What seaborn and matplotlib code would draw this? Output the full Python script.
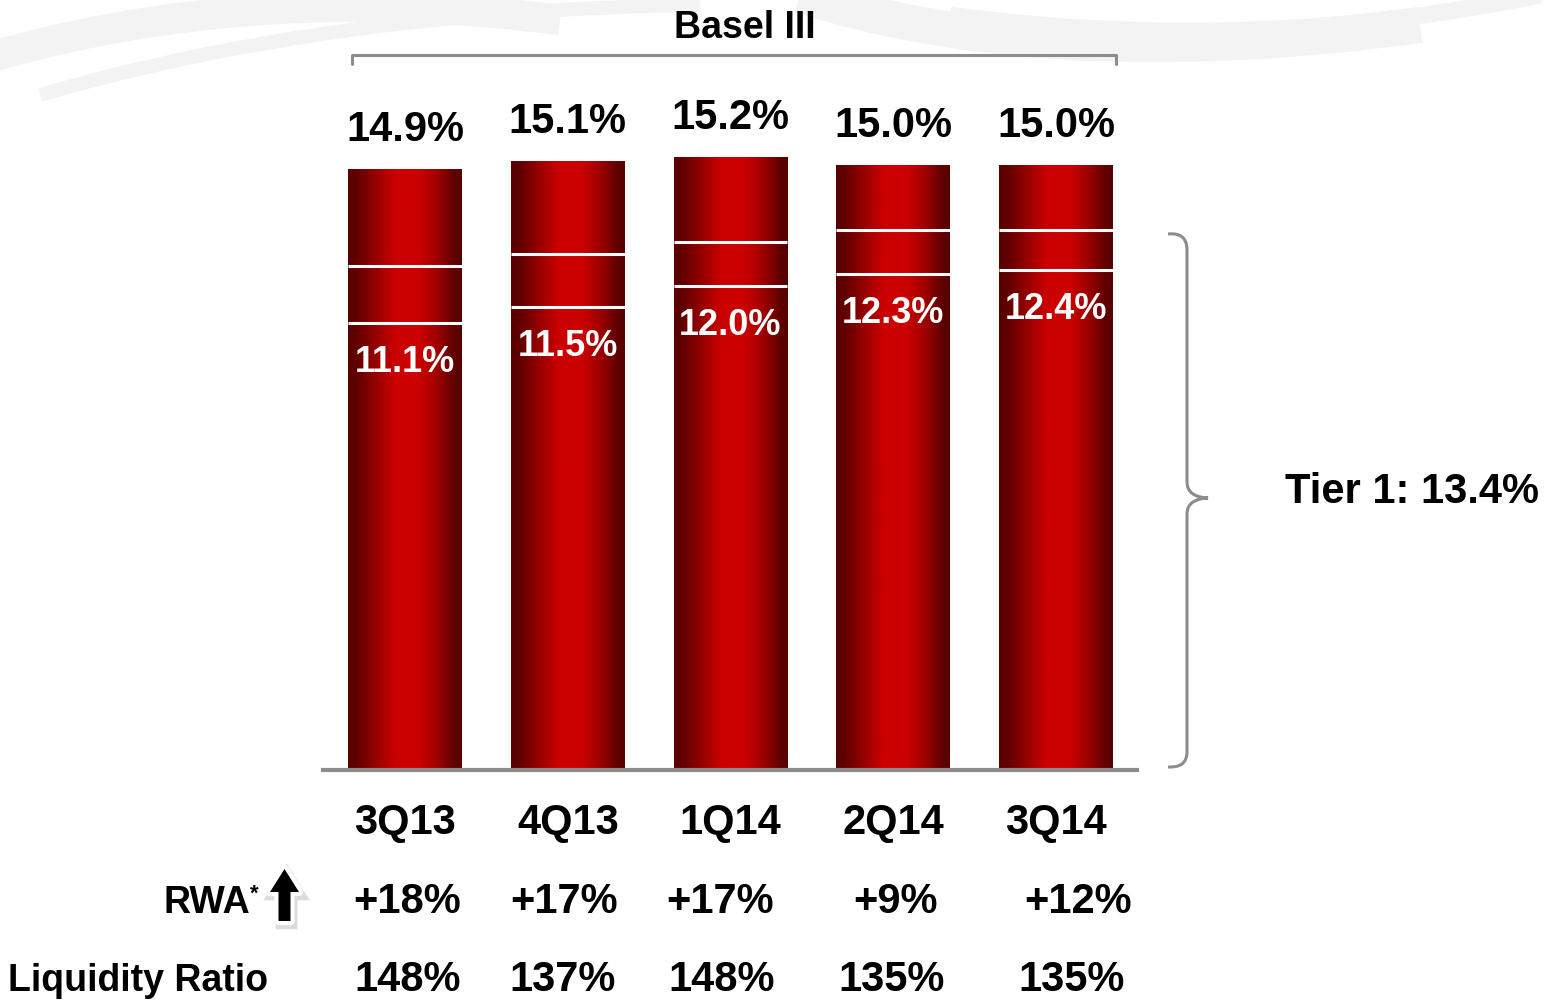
import numpy as np
import pandas as pd
import matplotlib
matplotlib.use("Agg")
import matplotlib.pyplot as plt
import seaborn as sns
from matplotlib.path import Path
from matplotlib.patches import PathPatch, Polygon
from matplotlib.lines import Line2D
from matplotlib import patheffects as pe
from matplotlib.transforms import blended_transform_factory

# Capital ratios by quarter (Basel III)
quarters = ["3Q13", "4Q13", "1Q14", "2Q14", "3Q14"]
total_ratio = [14.9, 15.1, 15.2, 15.0, 15.0]
tier1_ratio = [12.5, 12.8, 13.1, 13.4, 13.4]
cet1_ratio = [11.1, 11.5, 12.0, 12.3, 12.4]
rwa_growth = ["+18%", "+17%", "+17%", "+9%", "+12%"]
liquidity_ratio = ["148%", "137%", "148%", "135%", "135%"]
tier1_current = 13.4

sns.set_theme(style="white")
plt.rcParams["font.family"] = ["Liberation Sans", "DejaVu Sans"]

W, H = 1556, 1001
fig = plt.figure(figsize=(W / 100, H / 100), dpi=100)
fig.patch.set_facecolor("white")


def fx(x):
    return x / W


def fy(y):
    return 1 - y / H


GREY = "#8c8c8c"

# faint decorative swooshes along the top edge
for pts, lw in [
    ([(-20, 60), (250, -20), (560, 20)], 22),
    ([(40, 95), (330, 10), (700, 5)], 10),
    ([(800, -5), (1050, 75), (1420, 25)], 26),
    ([(950, 15), (1250, 55), (1540, -5)], 12),
]:
    verts = [(fx(x), fy(y)) for x, y in pts]
    fig.add_artist(PathPatch(Path(verts, [Path.MOVETO, Path.CURVE3, Path.CURVE3]),
                             transform=fig.transFigure, fill=False,
                             edgecolor="#f3f3f3", lw=lw, zorder=0))

ax = fig.add_axes([fx(323), fy(770), fx(1137) - fx(323), 16 * 40.3 / H])
df = pd.DataFrame({"quarter": quarters, "total": total_ratio})
sns.barplot(data=df, x="quarter", y="total", ax=ax, width=0.70,
            color="#cc0000", saturation=1)
bars = list(ax.patches)

# horizontal shading: dark edges, bright red centre
t = np.linspace(0, 1, 256)
f = np.interp(t, [0, 0.07, 0.25, 0.42, 0.62, 0.80, 0.94, 1.0],
              [0, 0.05, 0.55, 1, 1, 0.55, 0.03, 0])
dark = np.array([0x5a, 0x00, 0x00]) / 255
bright = np.array([0xcc, 0x00, 0x00]) / 255
grad = (dark[None, :] + f[:, None] * (bright - dark)[None, :])[None, :, :]

for p in bars:
    x0, w, h = p.get_x(), p.get_width(), p.get_height()
    ax.imshow(grad, extent=[x0, x0 + w, 0, h], aspect="auto", zorder=2,
              interpolation="bilinear", origin="lower")
    p.set_visible(False)

# segment separators for CET1 and Tier 1
for p, c, t1 in zip(bars, cet1_ratio, tier1_ratio):
    ax.hlines([c, t1], p.get_x(), p.get_x() + p.get_width(),
              colors="white", lw=2.2, zorder=3)

ax.set_xlim(-0.504, 4.498)
ax.set_ylim(0, 16)
ax.set_aspect("auto")
for s in ["top", "left", "right"]:
    ax.spines[s].set_visible(False)
ax.spines["bottom"].set_color(GREY)
ax.spines["bottom"].set_linewidth(3)
ax.set_yticks([])
ax.set_xlabel("")
ax.set_ylabel("")
ax.tick_params(axis="x", length=0, pad=24, labelsize=30, colors="black")
for lbl in ax.get_xticklabels():
    lbl.set_fontweight("bold")

# total capital ratio above each bar
for p, v in zip(bars, total_ratio):
    ax.annotate(f"{v:.1f}%", (p.get_x() + p.get_width() / 2, v),
                xytext=(0, 20.2), textcoords="offset points",
                ha="center", va="baseline", fontsize=30, fontweight="bold",
                color="black", annotation_clip=False)

# CET1 ratio inside each bar
for p, v in zip(bars, cet1_ratio):
    ax.annotate(f"{v:.1f}%", (p.get_x() + p.get_width() / 2, v),
                xytext=(0, -35.3), textcoords="offset points",
                ha="center", va="baseline", fontsize=26, fontweight="bold",
                color="white", zorder=5)

# rows under the chart
row = blended_transform_factory(ax.transData, fig.transFigure)
step = 162.75
rwa_dx = [2, -4, -10, 2, 22]
liq_dx = [3, -5, -9, -2, 16]
for i, (r, l) in enumerate(zip(rwa_growth, liquidity_ratio)):
    ax.text(i + rwa_dx[i] / step, fy(913), r, transform=row, ha="center",
            va="baseline", fontsize=30, fontweight="bold", color="black")
    ax.text(i + liq_dx[i] / step, fy(991), l, transform=row, ha="center",
            va="baseline", fontsize=30, fontweight="bold", color="black")

fig.text(fx(250), fy(913), "RWA", ha="right", va="baseline", fontsize=27,
         fontweight="bold", color="black")
fig.text(fx(250), fy(900), "*", ha="left", va="baseline", fontsize=16,
         fontweight="bold", color="black")
arrow_px = [(284.5, 869), (299, 892), (290.5, 892), (290.5, 921),
            (278.5, 921), (278.5, 892), (270, 892)]
arrow = Polygon([(fx(x), fy(y)) for x, y in arrow_px], closed=True,
                transform=fig.transFigure, facecolor="black",
                edgecolor="none", lw=0, zorder=5)
arrow.set_path_effects([
    pe.Stroke(linewidth=7, foreground="#bbbbbb", offset=(1.5, -2.5), alpha=0.5),
    pe.Stroke(linewidth=6, foreground="white", joinstyle="round"),
    pe.Normal(),
])
fig.add_artist(arrow)

fig.text(fx(8), fy(991), "Liquidity Ratio", ha="left", va="baseline",
         fontsize=27, fontweight="bold", color="black")

# Basel III header with bracket
fig.text(fx(745), fy(38), "Basel III", ha="center", va="baseline",
         fontsize=27, fontweight="bold", color="black")
fig.add_artist(Line2D([fx(352), fx(352), fx(1116), fx(1116)],
                      [fy(64), fy(55), fy(55), fy(64)],
                      transform=fig.transFigure, color=GREY, lw=2.2))

# curly brace for the Tier 1 range
brace_px = [(1168, 234), (1187, 232), (1187, 250), (1187, 482),
            (1187, 497), (1208, 498), (1187, 499), (1187, 514),
            (1187, 752), (1187, 768), (1168, 767)]
codes = [Path.MOVETO, Path.CURVE3, Path.CURVE3, Path.LINETO,
         Path.CURVE3, Path.CURVE3, Path.CURVE3, Path.CURVE3,
         Path.LINETO, Path.CURVE3, Path.CURVE3]
fig.add_artist(PathPatch(Path([(fx(x), fy(y)) for x, y in brace_px], codes),
                         transform=fig.transFigure, fill=False,
                         edgecolor=GREY, lw=2.2))
fig.text(fx(1285), fy(503), f"Tier 1: {tier1_current:.1f}%", ha="left",
         va="baseline", fontsize=30, fontweight="bold", color="black")

fig.savefig("out.png", dpi=100, facecolor="white")
